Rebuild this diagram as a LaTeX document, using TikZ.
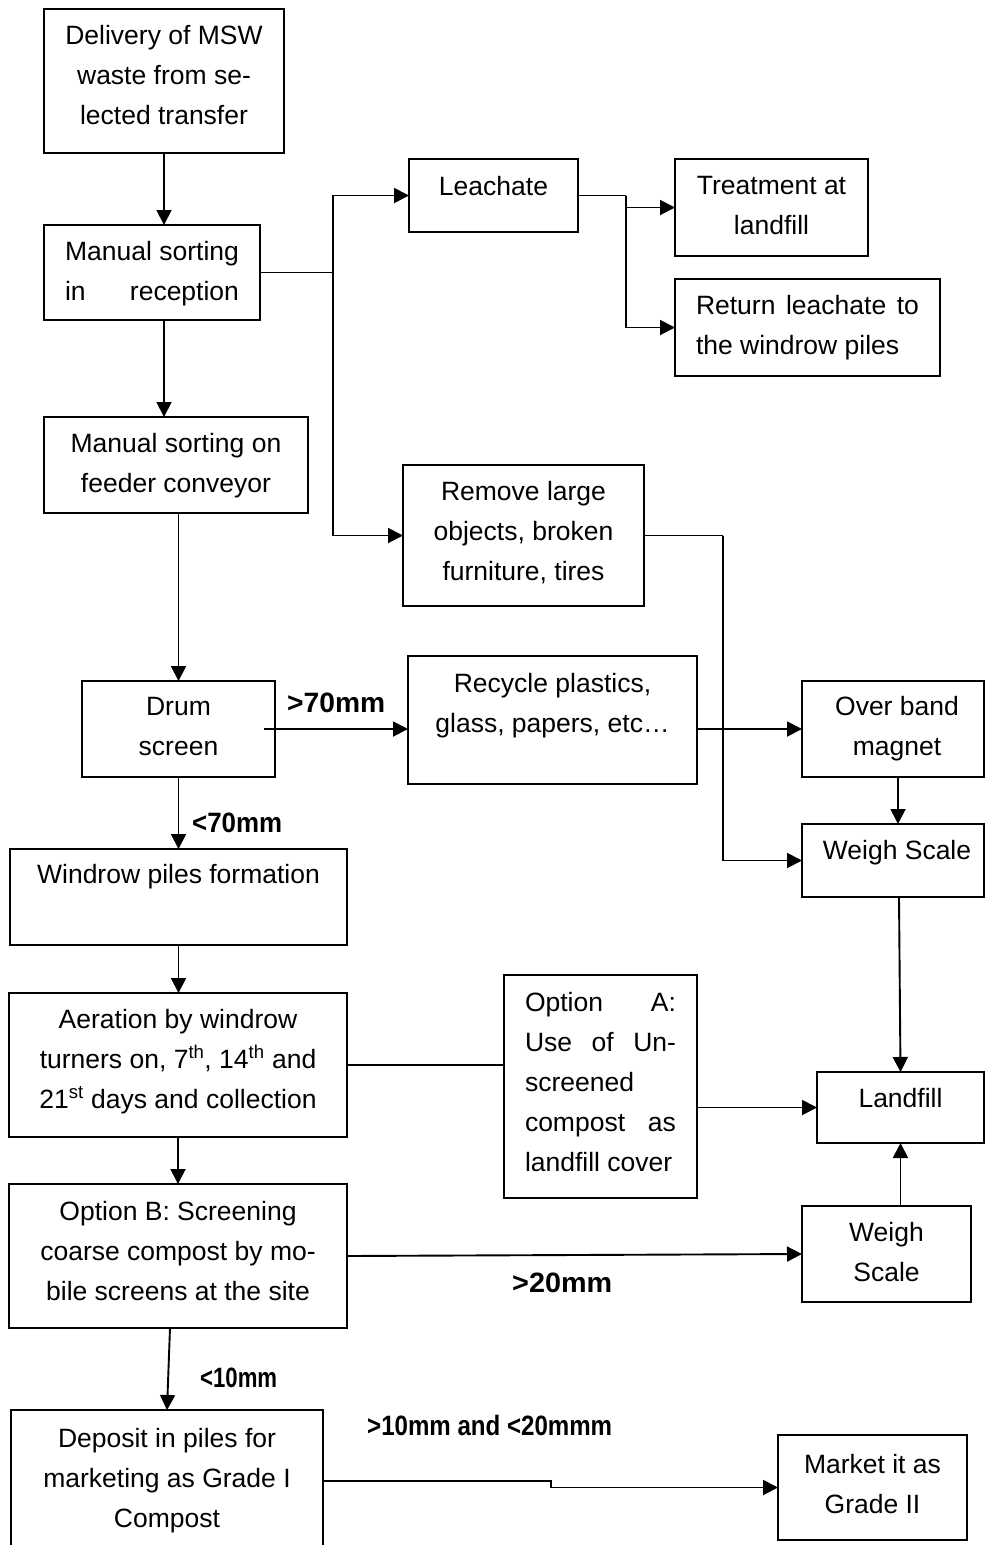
\documentclass[tikz,border=0pt]{standalone}
\usepackage{fontspec}
\setmainfont{Liberation Sans}
\usepackage{graphicx}
\usetikzlibrary{arrows.meta}
\newcommand\bxt[4]{\parbox[c][#2pt][t]{#1pt}{\centering\vspace*{#3pt}\rule{0pt}{20pt}#4}}
\begin{document}
\begin{tikzpicture}[x=1pt,y=1pt,
  bx/.style={draw, line width=2pt, inner sep=0pt, outer sep=0pt, anchor=north west,
    font=\fontsize{26.5pt}{40pt}\selectfont},
  conn/.style={line width=1.9pt, -{Triangle[length=15pt,width=15pt]}},
  ln/.style={line width=1.9pt},
  lbl/.style={inner sep=0pt, anchor=base west, font=\bfseries\fontsize{28pt}{28pt}\selectfont}]
\useasboundingbox (0,0) rectangle (985,-1545);
\fill[white] (0,0) rectangle (985,-1545);

% boxes
\node[bx] (del) at (44,-9) {\bxt{240}{144}{15}{Delivery of MSW\\waste from se-\\lected transfer}};
\node[bx] (rec) at (44,-225) {\bxt{216}{95}{15}{Manual sorting\\\makebox[174pt][s]{in reception}}};
\node[bx] (leach) at (409,-159) {\bxt{169}{73}{16}{Leachate}};
\node[bx] (treat) at (675,-159) {\bxt{193}{97}{15}{Treatment at\\landfill}};
\node[bx] (ret) at (675,-279) {\bxt{265}{97}{15}{\makebox[223pt][s]{Return leachate to}\\\makebox[223pt][l]{the windrow piles}}};
\node[bx] (feed) at (44,-417) {\bxt{264}{96}{15}{Manual sorting on\\feeder conveyor}};
\node[bx] (rem) at (403,-465) {\bxt{241}{141}{15}{Remove large\\objects, broken\\furniture, tires}};
\node[bx] (drum) at (82,-681) {\bxt{193}{96}{14}{Drum\\screen}};
\node[bx] (recy) at (408,-656) {\bxt{289}{128}{16}{Recycle plastics,\\glass, papers, etc…}};
\node[bx] (ob) at (802,-681) {\bxt{182}{96}{14}{\hspace*{8pt}Over band\\\hspace*{8pt}magnet}};
\node[bx] (ws1) at (802,-824) {\bxt{182}{73}{15}{\hspace*{8pt}Weigh Scale}};
\node[bx] (win) at (10,-849) {\bxt{337}{96}{14}{Windrow piles formation}};
\node[bx] (aer) at (9,-993) {\bxt{338}{144}{15}{Aeration by windrow\\turners on, 7\textsuperscript{th}, 14\textsuperscript{th} and\\21\textsuperscript{st} days and collection}};
\node[bx] (optA) at (504,-975) {\bxt{193}{223}{16}{\makebox[151pt][s]{Option A:}\\\makebox[151pt][s]{Use of Un-}\\\makebox[151pt][l]{screened}\\\makebox[151pt][s]{compost as}\\\makebox[151pt][l]{landfill cover}}};
\node[bx] (lf) at (817,-1072) {\bxt{167}{71}{15}{Landfill}};
\node[bx] (optB) at (9,-1184) {\bxt{338}{144}{16}{Option B: Screening\\coarse compost by mo-\\bile screens at the site}};
\node[bx] (ws2) at (802,-1206) {\bxt{169}{96}{15}{Weigh\\Scale}};
\node[bx] (dep) at (11,-1410) {\bxt{312}{150}{17}{Deposit in piles for\\marketing as Grade I\\Compost}};
\node[bx] (mkt) at (778,-1435) {\bxt{189}{105}{18}{Market it as\\Grade II}};

% labels
\node[lbl] (l1) at (287,-712) {\resizebox{98pt}{\height}{>70mm}};
\node[lbl] (l2) at (192,-832) {\resizebox{90pt}{\height}{<70mm}};
\node[lbl] (l3) at (512,-1292) {\resizebox{100pt}{\height}{>20mm}};
\node[lbl] (l4) at (200,-1387) {\resizebox{77pt}{\height}{<10mm}};
\node[lbl] (l5) at (367,-1435) {\resizebox{245pt}{\height}{>10mm and <20mmm}};

% junction columns
\coordinate (cA) at (333,0);
\coordinate (cB) at (626,0);
\coordinate (cC) at (723,0);
\coordinate (cD) at (551,0);

% connectors
\draw[conn] (del.south) -- (del.south |- rec.north);
\draw[conn] (del.south |- rec.south) -- (del.south |- feed.north);
\draw[ln] (rec.east) -- (rec.east -| cA);
\draw[conn] (rec.east -| cA) |- (leach.west);
\draw[conn] (rec.east -| cA) |- (rem.west);
\draw[ln] (leach.east) -- (leach.east -| cB);
\draw[conn] (leach.east -| cB) |- (treat.west);
\draw[conn] (leach.east -| cB) |- (ret.west);
\draw[ln] (rem.east) -- (rem.east -| cC);
\draw[conn] (rem.east -| cC) |- (ws1.west);
\draw[conn] (drum.north |- feed.south) -- (drum.north);
\draw[conn] ([xshift=-11pt]drum.east) -- (recy.west |- drum.east);
\draw[conn] (recy.east |- ob.west) -- (ob.west);
\draw[conn] ([xshift=5pt]ob.south) -- ([xshift=5pt]ws1.north);
\draw[conn] ([xshift=6pt]ws1.south) -- (lf.north);
\draw[conn] (drum.south) -- (drum.south |- win.north);
\draw[conn] (win.south) -- (win.south |- aer.north);
\draw[ln] (aer.east) -- (aer.east -| optA.west);
\draw[conn] (optA.east |- lf.west) -- (lf.west);
\draw[conn] (aer.south) -- (aer.south |- optB.north);
\draw[conn] (optB.east) -- (ws2.west);
\draw[conn] (lf.south |- ws2.north) -- (lf.south);
\draw[conn] ([xshift=-8pt]optB.south) -- (dep.north);
\draw[conn] ([yshift=4pt]dep.east) -- ([yshift=4pt]dep.east -| cD) -- (cD |- mkt.west) -- (mkt.west);
\end{tikzpicture}
\end{document}
